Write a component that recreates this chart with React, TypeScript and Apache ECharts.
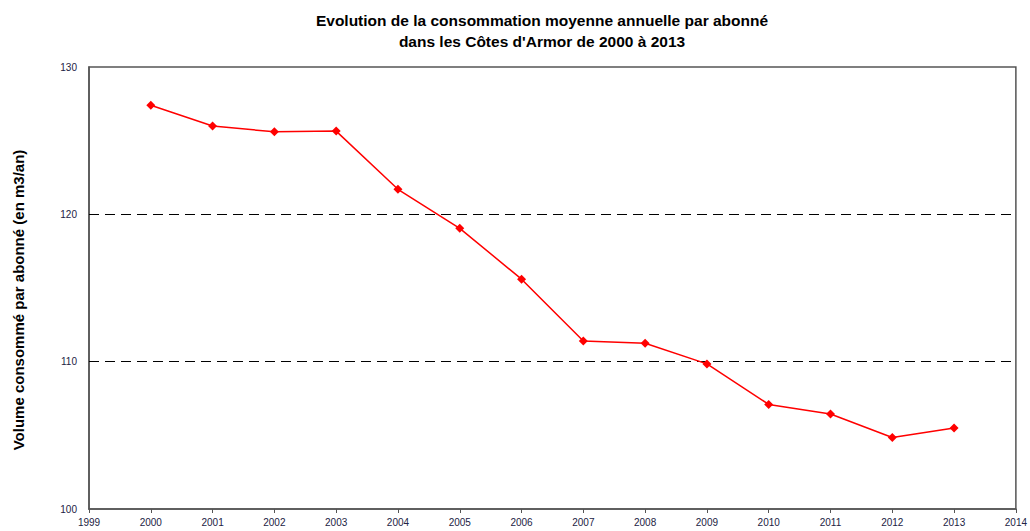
import React, { useEffect, useRef } from "react";
import * as echarts from "echarts";

const years = [2000, 2001, 2002, 2003, 2004, 2005, 2006, 2007, 2008, 2009, 2010, 2011, 2012, 2013];
const values = [127.4, 126.0, 125.6, 125.65, 121.7, 119.05, 115.6, 111.4, 111.25, 109.85, 107.1, 106.45, 104.85, 105.5];
const dashedLevels = [110, 120];
const titleText = "Evolution de la consommation moyenne annuelle par abonné\ndans les Côtes d'Armor de 2000 à 2013";
const yAxisName = "Volume consommé par abonné (en m3/an)";

export default function App() {
  const ref = useRef<HTMLDivElement>(null);
  useEffect(() => {
    if (!ref.current) return;
    const chart = echarts.init(ref.current, null, { renderer: "svg" });
    chart.setOption({
      animation: false,
      backgroundColor: "#ffffff",
      title: {
        text: titleText,
        left: 537,
        textAlign: "center",
        top: 5,
        textStyle: { fontFamily: "Liberation Sans, Arial", fontSize: 15.5, fontWeight: "bold", color: "#000", lineHeight: 21 },
      },
      graphic: [
        {
          type: "text",
          x: 18,
          y: 300,
          rotation: Math.PI / 2,
          style: {
            text: yAxisName,
            fontFamily: "Liberation Sans, Arial",
            fontSize: 15,
            fontWeight: "bold",
            fill: "#000",
            align: "center",
            verticalAlign: "middle",
          },
        },
      ],
      grid: {
        left: 89, right: 13, top: 67, bottom: 22,
        show: true, borderColor: "#555", borderWidth: 1.5, backgroundColor: "transparent",
      },
      xAxis: {
        type: "value",
        min: 1999, max: 2014, interval: 1,
        axisLine: { show: true, lineStyle: { color: "#555", width: 1.5 } },
        axisTick: { show: true, length: 4, lineStyle: { color: "#555" } },
        axisLabel: { fontFamily: "Liberation Sans, Arial", fontSize: 10, color: "#222244", margin: 8, formatter: (v: number) => String(v) },
        splitLine: { show: false },
      },
      yAxis: {
        type: "value",
        min: 100, max: 130, interval: 10,
        axisLine: { show: true, lineStyle: { color: "#555", width: 1.5 } },
        axisTick: { show: false },
        axisLabel: { fontFamily: "Liberation Sans, Arial", fontSize: 10, color: "#222244", margin: 12 },
        splitLine: { show: false },
      },
      series: [
        {
          type: "line",
          data: years.map((y, i) => [y, values[i]]),
          symbol: "diamond",
          symbolSize: 9,
          z: 3,
          itemStyle: { color: "#ff0000" },
          lineStyle: { color: "#ff0000", width: 1.5 },
          markLine: {
            silent: true,
            symbol: "none",
            label: { show: false },
            z: 1,
            lineStyle: { color: "#000", type: [10, 6], width: 1.2 },
            data: dashedLevels.map((v) => ({ yAxis: v })),
          },
        },
      ],
    });
    return () => chart.dispose();
  }, []);
  return <div ref={ref} style={{ position: "fixed", left: 0, top: 0, width: 1030, height: 531 }} />;
}
